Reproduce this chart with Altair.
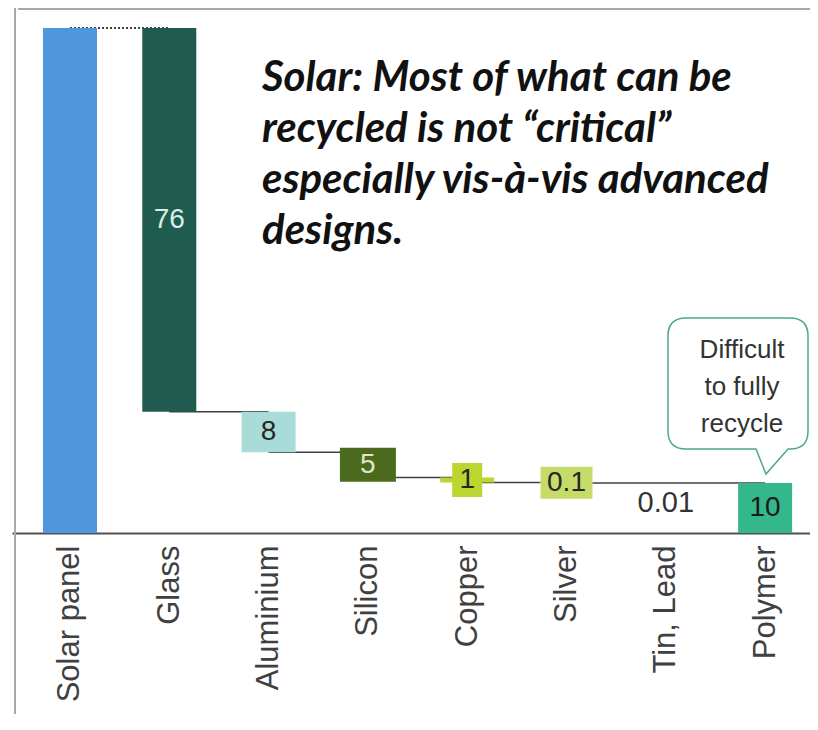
import json
import altair as alt
import pandas as pd

# ---- data ----
categories = ["Solar panel", "Glass", "Aluminium", "Silicon", "Copper", "Silver", "Tin, Lead", "Polymer"]
values = [100, 76, 8, 5, 1, 0.1, 0.01, 10]
labels = ["", "76", "8", "5", "1", "0.1", "0.01", "10"]
bar_colors = ["#4f97dc", "#1f5b4e", "#a9dcd8", "#4b6a1d", "#bcd531", "#c6dc69", "#c8c8c8", "#34b78a"]
label_colors = ["#ffffff", "#d6eee7", "#262626", "#dfe6c8", "#262626", "#262626", "#333333", "#1a1a1a"]
title_text = "Solar: Most of what can be\nrecycled is not \u201ccritical\u201d\nespecially vis-\u00e0-vis advanced\ndesigns."
callout_text = "Difficult\nto fully\nrecycle"

# ---- waterfall table ----
rows = []
level = values[0]
for i, (c, v) in enumerate(zip(categories, values)):
    if i == 0:
        lo, hi = 0.0, float(v)
    else:
        hi = level
        lo = max(0.0, level - v)
        level = lo
    rows.append(dict(idx=i, cat=c, lo=lo, hi=hi, mid=(lo + hi) / 2, color=bar_colors[i],
                     label=labels[i], lcolor=label_colors[i]))
df = pd.DataFrame(rows)

conn = []
for i in range(len(rows) - 1):
    y = rows[i]["hi"] if i == 0 else rows[i]["lo"]
    conn.append(dict(x=rows[i]["idx"], x2=rows[i + 1]["idx"], y=y, dashed=(i == 0)))
conn = pd.DataFrame(conn)

W, H = 798, 505
xs = alt.Scale(domain=[-0.584, 7.452], nice=False, zero=False, padding=0)
ys = alt.Scale(domain=[0, 100], nice=False)

label_expr = json.dumps(categories) + "[datum.value]"

x_axis = alt.Axis(values=list(range(len(categories))), labelExpr=label_expr, labelAngle=270,
                  labelFont="Liberation Sans", labelFontSize=31, labelColor="#404040",
                  labelPadding=12, ticks=False, grid=False, domain=True,
                  domainColor="#505050", domainWidth=2, title=None)


def X(field):
    return alt.X(field, scale=xs, axis=x_axis)


def Y(field):
    return alt.Y(field, scale=ys, axis=None)


base = alt.Chart(df)

# connector lines (under the bars)
conn_solid = alt.Chart(conn[~conn.dashed]).mark_rule(color="#404040", strokeWidth=1.5).encode(
    x=X("x:Q"), x2="x2:Q", y=Y("y:Q"))
conn_dash = alt.Chart(conn[conn.dashed]).mark_rule(color="#404040", strokeWidth=2, strokeDash=[2, 2]).encode(
    x=X("x:Q"), x2="x2:Q", y=Y("y:Q"))

bars = base.mark_bar(width=54).encode(
    x=X("idx:Q"), y=Y("hi:Q"), y2="lo:Q",
    color=alt.Color("color:N", scale=None),
)


def label_box(cat, hw, hh):
    return base.transform_filter(alt.datum.cat == cat).mark_rect(
        xOffset=-hw, x2Offset=hw, yOffset=-hh, y2Offset=hh).encode(
        x=X("idx:Q"), x2="idx:Q", y=Y("mid:Q"), y2="mid:Q",
        color=alt.Color("color:N", scale=None))


boxes = [label_box("Silicon", 28, 17), label_box("Copper", 15, 17), label_box("Silver", 26, 16)]

texts = base.transform_filter((alt.datum.label != "") & (alt.datum.cat != "Tin, Lead")).mark_text(
    font="Liberation Sans", fontSize=28, align="center", baseline="middle").encode(
    x=X("idx:Q"), y=Y("mid:Q"), text="label:N", color=alt.Color("lcolor:N", scale=None))

tin_text = base.transform_filter(alt.datum.cat == "Tin, Lead").mark_text(
    font="Liberation Sans", fontSize=29, align="center", baseline="middle", dy=20).encode(
    x=X("idx:Q"), y=Y("lo:Q"), text="label:N", color=alt.Color("lcolor:N", scale=None))

# title annotation
title = alt.Chart(pd.DataFrame({"t": [title_text]})).mark_text(
    font="Lato", fontSize=42, fontStyle="italic", fontWeight="bold", align="left",
    baseline="alphabetic", lineBreak="\n", lineHeight=51, color="#111111").encode(
    x=alt.value(250), y=alt.value(63), text="t:N")

# callout bubble (tip at the polymer bar)
bubble_path = ("M -80,-156 L 24,-156 Q 42,-156 42,-138 L 42,-43 Q 42,-25 24,-25 "
               "L 22,-25 L 0,0 L -10,-25 L -80,-25 Q -98,-25 -98,-43 L -98,-138 "
               "Q -98,-156 -80,-156 Z")
bubble = alt.Chart(pd.DataFrame({"k": [0]})).mark_point(
    shape=bubble_path, size=4, filled=True, fill="white", stroke="#4aa88f",
    strokeWidth=1.5, opacity=1).encode(x=alt.value(754), y=alt.value(446))
callout = alt.Chart(pd.DataFrame({"t": [callout_text]})).mark_text(
    font="Liberation Sans", fontSize=26, align="center", baseline="middle", lineBreak="\n",
    lineHeight=37, color="#333333").encode(x=alt.value(730), y=alt.value(322), text="t:N")

# thin frame at top and left like the slide border
frame_top = alt.Chart(pd.DataFrame({"k": [0]})).mark_rule(color="#a8a8a8", strokeWidth=2).encode(
    x=alt.value(6), x2=alt.value(W), y=alt.value(-19))
frame_left = alt.Chart(pd.DataFrame({"k": [0]})).mark_rule(color="#a8a8a8", strokeWidth=2).encode(
    x=alt.value(3), y=alt.value(-20), y2=alt.value(700))

chart = alt.layer(
    frame_top, frame_left, conn_solid, conn_dash, bars, *boxes, texts, tin_text, title, bubble, callout
).properties(
    width=W, height=H, padding={"left": 4, "top": 20, "right": 0, "bottom": 181},
    autosize=alt.AutoSizeParams(type="none"), background="white"
).configure_view(strokeWidth=0)

chart.save("out.html", embed_options={"renderer": "svg", "actions": False})
